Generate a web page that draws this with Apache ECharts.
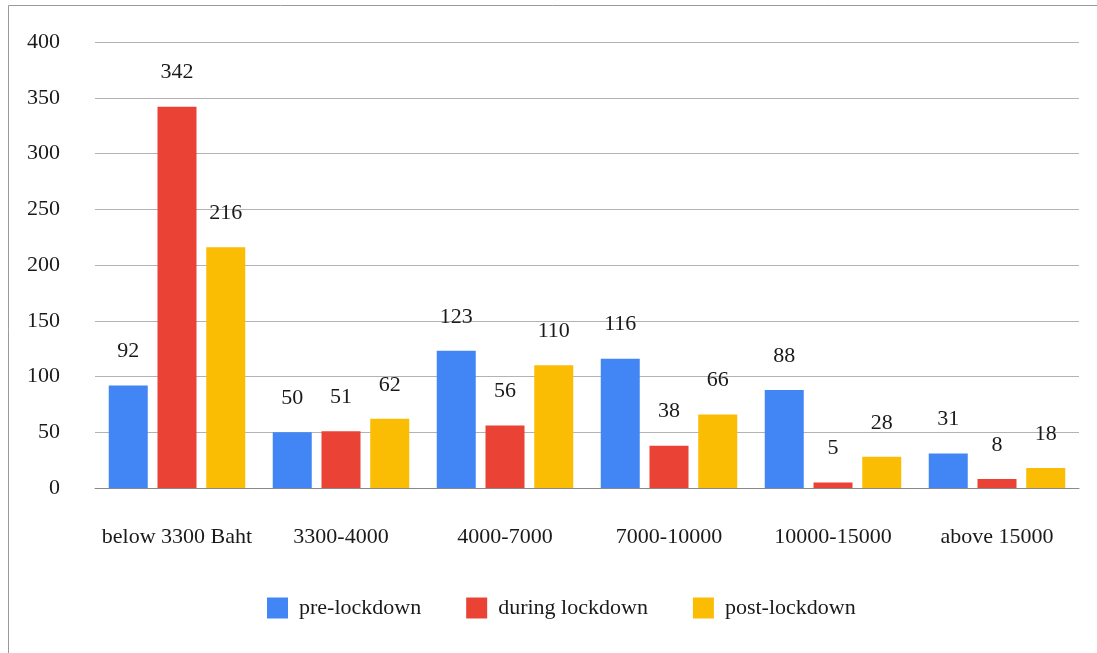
<!DOCTYPE html>
<html>
<head>
<meta charset="utf-8">
<script src="https://cdn.jsdelivr.net/npm/echarts@6/dist/echarts.min.js"></script>
<style>
  html, body { margin: 0; padding: 0; background: #fff; }
  #chart { width: 1097px; height: 653px; }
</style>
</head>
<body>
<div id="chart"></div>
<script>
// Income bands and respondent counts per lockdown phase
const categories = ['below 3300 Baht', '3300-4000', '4000-7000', '7000-10000', '10000-15000', 'above 15000'];
const preLockdown = [92, 50, 123, 116, 88, 31];
const duringLockdown = [342, 51, 56, 38, 5, 8];
const postLockdown = [216, 62, 110, 66, 28, 18];
const seriesNames = ['pre-lockdown', 'during lockdown', 'post-lockdown'];
const yTicks = { min: 0, max: 400, interval: 50 };

const FONT = '"Liberation Serif", "Times New Roman", serif';
const FS = 22;
const colors = ['#4285F4', '#EA4335', '#FBBC04'];

const chart = echarts.init(document.getElementById('chart'), null, { renderer: 'canvas' });

function barSeries(name, data, color) {
  return {
    name: name,
    type: 'bar',
    data: data,
    barWidth: 39,
    barGap: '25%',
    itemStyle: { color: color },
    label: {
      show: true,
      position: 'top',
      distance: 23,
      color: '#1a1a1a',
      fontFamily: FONT,
      fontSize: FS
    }
  };
}

chart.setOption({
  animation: false,
  color: colors,
  textStyle: { fontFamily: FONT },
  grid: { left: 95, right: 18, top: 42, bottom: 165, containLabel: false },
  legend: {
    data: seriesNames,
    left: 262,
    top: 592,
    itemWidth: 21,
    itemHeight: 21,
    itemGap: 45,
    icon: 'rect',
    textStyle: { fontFamily: FONT, fontSize: FS, color: '#1a1a1a', padding: [0, 0, 0, 6] }
  },
  xAxis: {
    type: 'category',
    data: categories,
    axisTick: { show: false },
    axisLine: { show: true, lineStyle: { color: '#8a8a8a', width: 1 } },
    axisLabel: { margin: 38, fontFamily: FONT, fontSize: FS, color: '#1a1a1a', interval: 0 }
  },
  yAxis: {
    type: 'value',
    min: yTicks.min,
    max: yTicks.max,
    interval: yTicks.interval,
    axisLine: { show: false },
    axisTick: { show: false },
    splitLine: { lineStyle: { color: '#b3b3b3', width: 1 } },
    axisLabel: { margin: 35, fontFamily: FONT, fontSize: FS, color: '#1a1a1a' }
  },
  graphic: [
    { type: 'line', shape: { x1: 8.5, y1: 5.5, x2: 1097, y2: 5.5 }, style: { stroke: '#9a9a9a', lineWidth: 1 } },
    { type: 'line', shape: { x1: 8.5, y1: 5.5, x2: 8.5, y2: 653 }, style: { stroke: '#9a9a9a', lineWidth: 1 } }
  ],
  series: [
    barSeries(seriesNames[0], preLockdown, colors[0]),
    barSeries(seriesNames[1], duringLockdown, colors[1]),
    barSeries(seriesNames[2], postLockdown, colors[2])
  ]
});
</script>
</body>
</html>
